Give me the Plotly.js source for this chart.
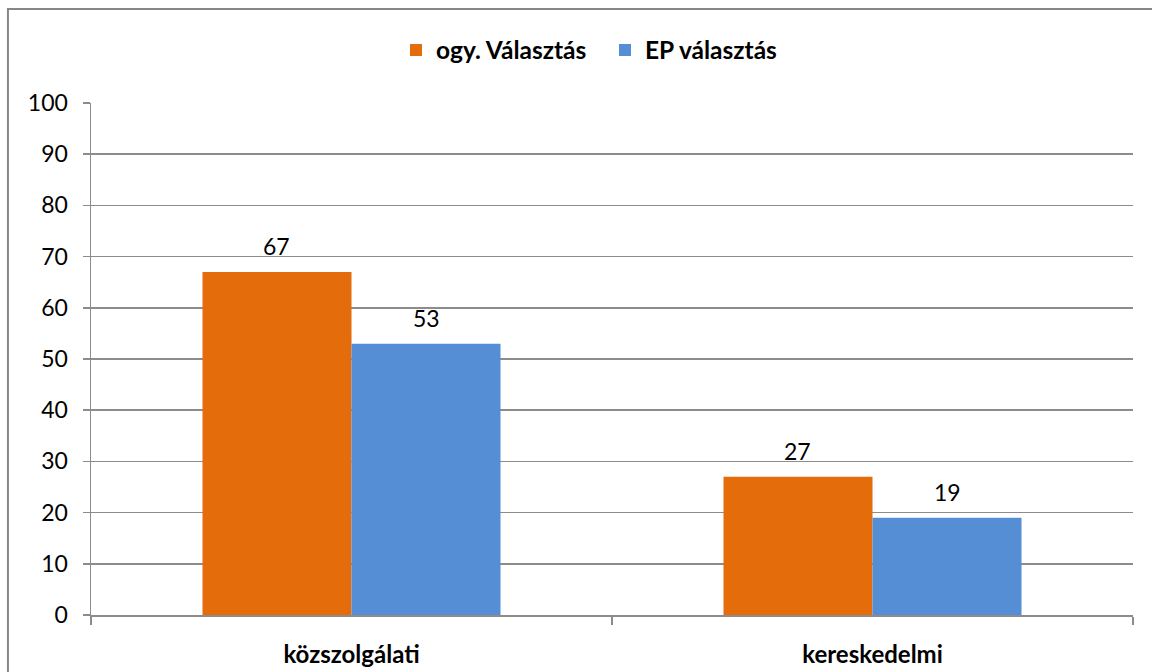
<!DOCTYPE html>
<html>
<head>
<meta charset="utf-8">
<script src="https://cdn.plot.ly/plotly-3.0.1.min.js"></script>
<style>html,body{margin:0;padding:0;background:#fff;}#chart{width:1152px;height:672px;}</style>
</head>
<body>
<div id="chart"></div>
<script>
const categories = ["közszolgálati", "kereskedelmi"];
const seriesNames = ["ogy. Választás", "EP választás"];
const ogyValues = [67, 27];
const epValues = [53, 19];
const yTicks = [0, 10, 20, 30, 40, 50, 60, 70, 80, 90, 100];

const FONT = "Lato, 'Open Sans', sans-serif";
const GRID = "#8c8c8c";
const W = 1152, H = 672;
const margin = {l: 91, r: 19, t: 103, b: 57};
const BARGAP = 0.428;
const catLabels = categories.map(c => "<b>" + c + "</b>");

function barTrace(name, values, color) {
  return {
    type: "bar",
    name: "<b>" + name + "</b>",
    x: catLabels,
    y: values,
    marker: {color: color, line: {width: 0}},
    hoverinfo: "x+y"
  };
}

const data = [
  barTrace(seriesNames[0], ogyValues, "#E46C0A"),
  barTrace(seriesNames[1], epValues, "#558ED5")
];

// data labels above each bar, offset to the bar's slot in the group
const catWidthPx = (W - margin.l - margin.r) / categories.length;
const barOffsetPx = (1 - BARGAP) * catWidthPx / 4;
const annotations = [];
[ogyValues, epValues].forEach((vals, si) => {
  vals.forEach((v, ci) => {
    annotations.push({
      x: catLabels[ci], y: v, xref: "x", yref: "y",
      text: String(v), showarrow: false,
      xanchor: "center", yanchor: "bottom",
      xshift: (si === 0 ? -1 : 1) * barOffsetPx, yshift: 10,
      font: {family: FONT, size: 23, color: "#000"}
    });
  });
});

const layout = {
  width: W, height: H,
  margin: margin,
  paper_bgcolor: "#fff", plot_bgcolor: "#fff",
  font: {family: FONT, size: 23, color: "#000"},
  barmode: "group",
  bargap: BARGAP,
  bargroupgap: 0,
  showlegend: true,
  legend: {
    orientation: "h", x: 0.2927, xanchor: "left", y: 1.1035, yanchor: "middle",
    font: {family: FONT, size: 24.5, color: "#000"},
    entrywidth: 164, entrywidthmode: "pixels",
    traceorder: "normal"
  },
  xaxis: {
    type: "category",
    tickson: "boundaries",
    ticks: "outside", ticklen: 8, tickcolor: GRID, tickwidth: 1.5,
    showline: true, linecolor: GRID, linewidth: 1.5,
    showgrid: false,
    tickfont: {family: FONT, size: 24, color: "#000"},
    ticklabelstandoff: 18,
    fixedrange: true
  },
  yaxis: {
    range: [0, 100],
    tickvals: yTicks,
    ticks: "outside", ticklen: 7, tickcolor: GRID, tickwidth: 1.5,
    showline: true, linecolor: GRID, linewidth: 1.5,
    showgrid: true, gridcolor: GRID, gridwidth: 1.5,
    zeroline: false,
    tickfont: {family: FONT, size: 23, color: "#000"},
    ticklabelstandoff: 10,
    fixedrange: true
  },
  annotations: annotations,
  shapes: [{
    type: "path", xref: "paper", yref: "paper",
    path: "M -0.0797,-0.3 L -0.0797,1.1836 L 1.2,1.1836",
    line: {color: "#878787", width: 2}
  }]
};

Plotly.newPlot("chart", data, layout, {displayModeBar: false, staticPlot: true});
</script>
</body>
</html>
